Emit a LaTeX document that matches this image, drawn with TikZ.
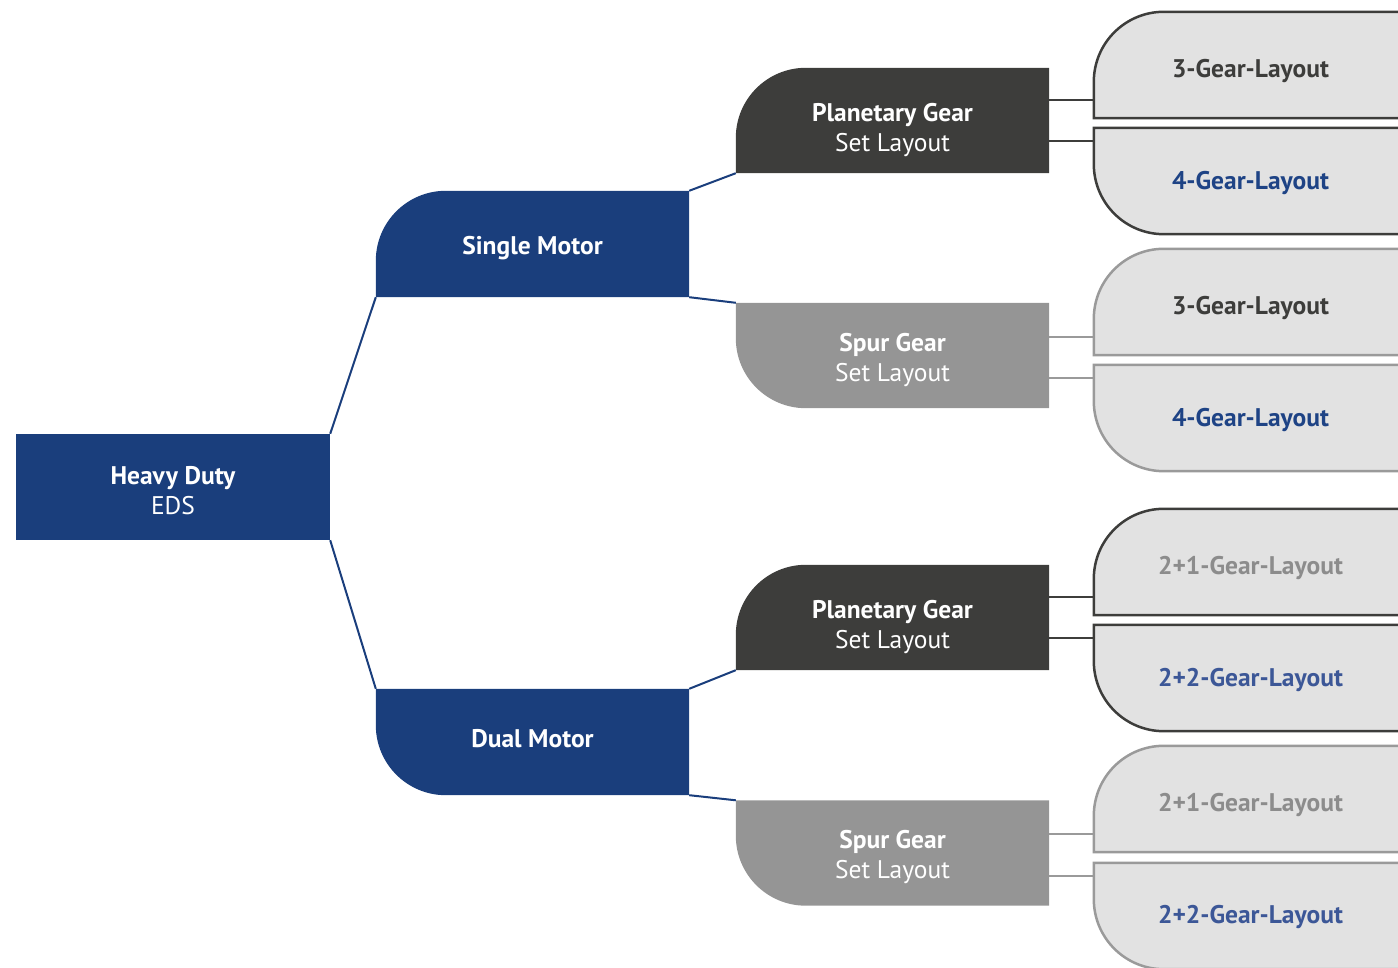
\documentclass[tikz,border=0pt]{standalone}
\usepackage{fontspec}
\setmainfont{PT Sans}
\usetikzlibrary{calc,backgrounds}
\definecolor{cblue}{HTML}{1A3E7C}
\definecolor{cdark}{HTML}{3D3D3B}
\definecolor{cgray}{HTML}{959595}
\definecolor{cleaf}{HTML}{E2E2E2}
\definecolor{cleafgray}{HTML}{9A9A9A}
\definecolor{ctxtgray}{HTML}{8C8C8C}
\definecolor{ctxtblue}{HTML}{1E4385}
\definecolor{ctxtblue2}{HTML}{3C5797}
\newcommand\shapeTL[2]{\path[#2] (#1.south west) -- ($(#1.north west)+(0,-70pt)$) arc[start angle=180,end angle=90,radius=70pt] -- (#1.north east) -- (#1.south east) -- cycle;}
\newcommand\shapeBL[2]{\path[#2] (#1.north west) -- ($(#1.south west)+(0,70pt)$) arc[start angle=180,end angle=270,radius=70pt] -- (#1.south east) -- (#1.north east) -- cycle;}
\begin{document}
\begin{tikzpicture}[x=1pt,y=1pt,
  box/.style={minimum width=313pt, minimum height=106pt, inner sep=0pt},
  txt/.style={inner sep=0pt, align=center, font=\fontsize{25.5}{30}\selectfont, text=white},
  leaftxt/.style={txt, text=cdark, font=\fontsize{25.5}{30}\selectfont\bfseries},
  bluelink/.style={draw=cblue, line width=2pt},
  darklink/.style={draw=cdark, line width=2.2pt},
  graylink/.style={draw=cleafgray, line width=2.2pt}]
\useasboundingbox (0,0) rectangle (1398,967);
% main shapes (anchors)
\node[box, minimum width=314pt] (hd) at (173,480) {};
\node[box] (sm) at (532.5,723) {};
\node[box] (dm) at (532.5,225) {};
\node[box, minimum height=105pt] (pg1) at (892.5,846.5) {};
\node[box, minimum height=105pt] (sp1) at (892.5,611.5) {};
\node[box, minimum height=105pt] (pg2) at (892.5,349.5) {};
\node[box, minimum height=105pt] (sp2) at (892.5,114) {};
\foreach \n/\y in {l1/902,l2/786,l3/665,l4/549,l5/405,l6/289,l7/168,l8/51}
  \node[box] (\n) at (1250.5,\y) {};
% texts
\node[txt] (hd-t) at ($(hd)+(0,-4)$) {\textbf{Heavy Duty}\\EDS};
\node[txt] (sm-t) at ($(sm)+(0,-4)$) {\textbf{Single Motor}};
\node[txt] (dm-t) at ($(dm)+(0,3)$) {\textbf{Dual Motor}};
\node[txt] (pg1-t) at ($(pg1)+(0,-10)$) {\textbf{Planetary Gear}\\Set Layout};
\node[txt] (sp1-t) at ($(sp1)+(0,-5)$) {\textbf{Spur Gear}\\Set Layout};
\node[txt] (pg2-t) at ($(pg2)+(0,-10)$) {\textbf{Planetary Gear}\\Set Layout};
\node[txt] (sp2-t) at ($(sp2)+(0,-4)$) {\textbf{Spur Gear}\\Set Layout};
\node[leaftxt] (l1-t) at ($(l1)+(0,-6)$) {3-Gear-Layout};
\node[leaftxt, text=ctxtblue] (l2-t) at ($(l2)+(0,-2)$) {4-Gear-Layout};
\node[leaftxt] (l3-t) at ($(l3)+(0,-6)$) {3-Gear-Layout};
\node[leaftxt, text=ctxtblue] (l4-t) at ($(l4)+(0,-2)$) {4-Gear-Layout};
\node[leaftxt, text=ctxtgray] (l5-t) at ($(l5)+(0,-6)$) {2+1-Gear-Layout};
\node[leaftxt, text=ctxtblue2] (l6-t) at ($(l6)+(0,-2)$) {2+2-Gear-Layout};
\node[leaftxt, text=ctxtgray] (l7-t) at ($(l7)+(0,-6)$) {2+1-Gear-Layout};
\node[leaftxt, text=ctxtblue2] (l8-t) at ($(l8)+(0,-1)$) {2+2-Gear-Layout};
\begin{scope}[on background layer]
  \path[fill=cblue] (hd.south west) rectangle (hd.north east);
  \shapeTL{sm}{fill=cblue}
  \shapeBL{dm}{fill=cblue}
  \shapeTL{pg1}{fill=cdark}
  \shapeBL{sp1}{fill=cgray}
  \shapeTL{pg2}{fill=cdark}
  \shapeBL{sp2}{fill=cgray}
  \shapeTL{l1}{fill=cleaf, draw=cdark, line width=2.5pt}
  \shapeBL{l2}{fill=cleaf, draw=cdark, line width=2.5pt}
  \shapeTL{l3}{fill=cleaf, draw=cleafgray, line width=2.5pt}
  \shapeBL{l4}{fill=cleaf, draw=cleafgray, line width=2.5pt}
  \shapeTL{l5}{fill=cleaf, draw=cdark, line width=2.5pt}
  \shapeBL{l6}{fill=cleaf, draw=cdark, line width=2.5pt}
  \shapeTL{l7}{fill=cleaf, draw=cleafgray, line width=2.5pt}
  \shapeBL{l8}{fill=cleaf, draw=cleafgray, line width=2.5pt}
  % blue connectors
  \draw[bluelink] (hd.north east) -- (sm.south west);
  \draw[bluelink] (hd.south east) -- (dm.north west);
  \draw[bluelink] (sm.north east) -- (pg1.south west);
  \draw[bluelink] (sm.south east) -- (sp1.north west);
  \draw[bluelink] (dm.north east) -- (pg2.south west);
  \draw[bluelink] (dm.south east) -- (sp2.north west);
  % leaf connectors
  \draw[darklink] ($(l1.south west)+(0,18.5)$) coordinate (t1) -- (t1 -| pg1.east);
  \draw[darklink] ($(l2.north west)+(0,-13.5)$) coordinate (t2) -- (t2 -| pg1.east);
  \draw[graylink] ($(l3.south west)+(0,18.5)$) coordinate (t3) -- (t3 -| sp1.east);
  \draw[graylink] ($(l4.north west)+(0,-13.5)$) coordinate (t4) -- (t4 -| sp1.east);
  \draw[darklink] ($(l5.south west)+(0,18.5)$) coordinate (t5) -- (t5 -| pg2.east);
  \draw[darklink] ($(l6.north west)+(0,-13.5)$) coordinate (t6) -- (t6 -| pg2.east);
  \draw[graylink] ($(l7.south west)+(0,18.5)$) coordinate (t7) -- (t7 -| sp2.east);
  \draw[graylink] ($(l8.north west)+(0,-13.5)$) coordinate (t8) -- (t8 -| sp2.east);
\end{scope}
\end{tikzpicture}
\end{document}
